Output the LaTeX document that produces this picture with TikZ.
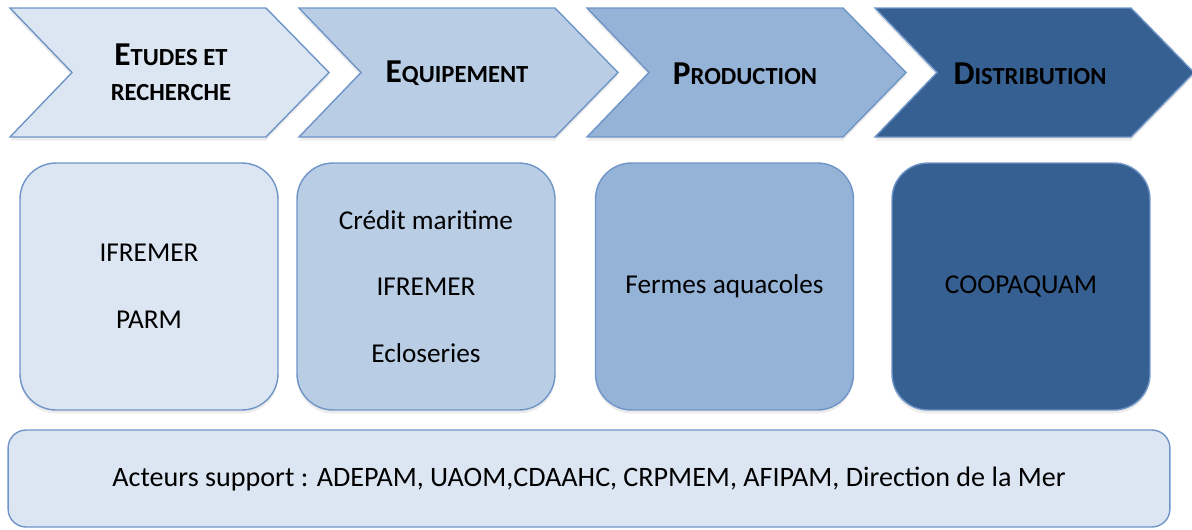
\documentclass[tikz,border=0pt]{standalone}
\usepackage{fontspec}
\setmainfont{Carlito}
\usetikzlibrary{positioning, shadows}

\definecolor{pale}{HTML}{DCE6F2}
\definecolor{light}{HTML}{B9CDE5}
\definecolor{mid}{HTML}{95B3D7}
\definecolor{deep}{HTML}{376092}
\definecolor{edge}{HTML}{6F94C6}

% big first letter, then small capitals
\newcommand{\initcap}[1]{{\fontsize{19}{19}\selectfont #1}}
\newcommand{\restcap}[1]{{\fontsize{14}{14}\selectfont #1}}

\begin{document}
\begin{tikzpicture}[x=0.02cm, y=-0.02cm,
    chevron/.style={draw=edge, line width=0.8pt, drop shadow={shadow xshift=0pt, shadow yshift=-2pt, opacity=0.15}},
    heading/.style={align=center, font=\bfseries\fontsize{14}{20}\selectfont},
    actor/.style={draw=edge, line width=0.8pt, rounded corners=0.72cm, minimum width=5.16cm, minimum height=4.94cm, align=center, font=\fontsize{15.5}{38}\selectfont, drop shadow={shadow xshift=0pt, shadow yshift=-2pt, opacity=0.15}},
    support/.style={draw=edge, line width=0.8pt, rounded corners=0.36cm, fill=pale, minimum width=23.24cm, minimum height=1.94cm, font=\fontsize{16}{18}\selectfont}]
    \useasboundingbox (0,0) rectangle (1192,529);

    % value chain
    \foreach \x/\col in {10/pale, 299/light, 587/mid, 875/deep}
        \draw[chevron, fill=\col] (\x,8) -- ++(256,0) -- ++(63,64.5) -- ++(-63,64.5) -- ++(-256,0) -- ++(62,-64.5) -- cycle;

    \node[heading] (etudes) at (171,72.5) {\initcap{E}\restcap{TUDES ET}\\\restcap{RECHERCHE}};
    \node[heading] (equip) at (457,73.5) {\initcap{E}\restcap{QUIPEMENT}};
    \node[heading] (prod) at (745,73.5) {\initcap{P}\restcap{RODUCTION}};
    \node[heading] (distrib) at (1030,73.5) {\initcap{D}\restcap{ISTRIBUTION}};

    % actors
    \node[actor, fill=pale] (ifremer) at (149,286.5) {IFREMER\\PARM};
    \node[actor, fill=light] (credit) at (426,286.5) {Crédit maritime\\IFREMER\\Ecloseries};
    \node[actor, fill=mid] (fermes) at (724.5,286.5) {Fermes aquacoles};
    \node[actor, fill=deep] (coop) at (1021,286.5) {COOPAQUAM};

    \node[support] (acteurs) at (589,478.5) {Acteurs support : ADEPAM, UAOM,CDAAHC, CRPMEM, AFIPAM, Direction de la Mer};
\end{tikzpicture}
\end{document}
